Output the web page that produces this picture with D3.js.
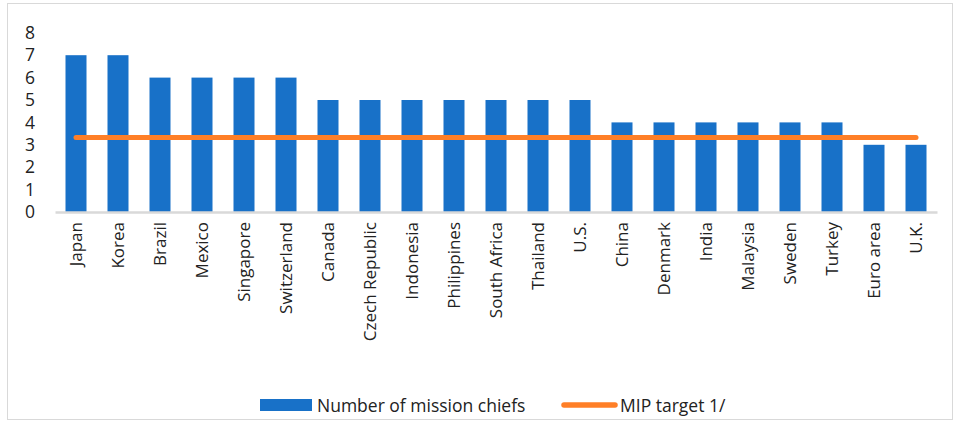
<!DOCTYPE html>
<html><head><meta charset="utf-8">
<script src="https://cdn.jsdelivr.net/npm/d3@7"></script>
<style>
body{margin:0;background:#fff;}
text{font-family:"Open Sans","Noto Sans",sans-serif;fill:#222;}
</style></head>
<body><svg id="c" width="956" height="423"></svg>
<script>
const categories = ["Japan","Korea","Brazil","Mexico","Singapore","Switzerland","Canada","Czech Republic","Indonesia","Philippines","South Africa","Thailand","U.S.","China","Denmark","India","Malaysia","Sweden","Turkey","Euro area","U.K."];
const missionChiefs = [7,7,6,6,6,6,5,5,5,5,5,5,5,4,4,4,4,4,4,3,3];
const mipTarget = [3.33,3.33,3.33,3.33,3.33,3.33,3.33,3.33,3.33,3.33,3.33,3.33,3.33,3.33,3.33,3.33,3.33,3.33,3.33,3.33,3.33];
const yTicks = [0,1,2,3,4,5,6,7,8];
const seriesNames = ["Number of mission chiefs","MIP target 1/"];

const svg = d3.select("#c");
svg.append("rect").attr("x",7.5).attr("y",3.5).attr("width",945).attr("height",416)
  .attr("fill","#fff").attr("stroke","#d9d9d9");

const x = d3.scaleBand().domain(categories).range([55,937]).paddingInner(0.5).paddingOuter(0.25);
const y = d3.scaleLinear().domain([0,8]).range([212,32.8]);

// y axis labels
const ya = svg.append("g").attr("transform","translate(35,0)")
  .call(d3.axisLeft(y).tickValues(yTicks).tickSize(0).tickPadding(0).tickFormat(d3.format("d")));
ya.select(".domain").remove();
ya.selectAll("text").attr("font-size","17.5px").attr("fill","#222").style("font-family","'Open Sans','Noto Sans',sans-serif");

// bars
svg.append("g").selectAll("rect").data(categories).join("rect")
  .attr("x",d=>x(d)).attr("width",x.bandwidth())
  .attr("y",(d,i)=>y(missionChiefs[i])).attr("height",(d,i)=>y(0)-y(missionChiefs[i]))
  .attr("fill","#1871c8");

// baseline + x labels
const xa = svg.append("g").attr("transform",`translate(0,${y(0)})`)
  .call(d3.axisBottom(x).tickSize(0).tickPadding(0));
xa.select(".domain").attr("stroke","#d9d9d9").attr("stroke-width",2.5);
xa.selectAll("text").attr("font-size","17px").attr("fill","#222")
  .style("font-family","'Open Sans','Noto Sans',sans-serif")
  .attr("text-anchor","end").attr("dy","0.35em")
  .attr("transform","translate(0,10) rotate(-90)").attr("x",0).attr("y",0);

// line
const line = d3.line().x(d=>x(d)+x.bandwidth()/2).y((d,i)=>y(mipTarget[i]));
svg.append("path").datum(categories).attr("d",line).attr("fill","none")
  .attr("stroke","#ff7f27").attr("stroke-width",5).attr("stroke-linecap","round");

// legend
const lg = svg.append("g");
lg.append("rect").attr("x",260).attr("y",399).attr("width",52).attr("height",12).attr("fill","#1871c8");
lg.append("text").attr("x",317).attr("y",412).attr("font-size","17.5px").text(seriesNames[0]);
lg.append("line").attr("x1",564).attr("x2",615).attr("y1",405).attr("y2",405)
  .attr("stroke","#ff7f27").attr("stroke-width",5.5).attr("stroke-linecap","round");
lg.append("text").attr("x",620).attr("y",412).attr("font-size","17.5px").text(seriesNames[1]);
</script></body></html>
